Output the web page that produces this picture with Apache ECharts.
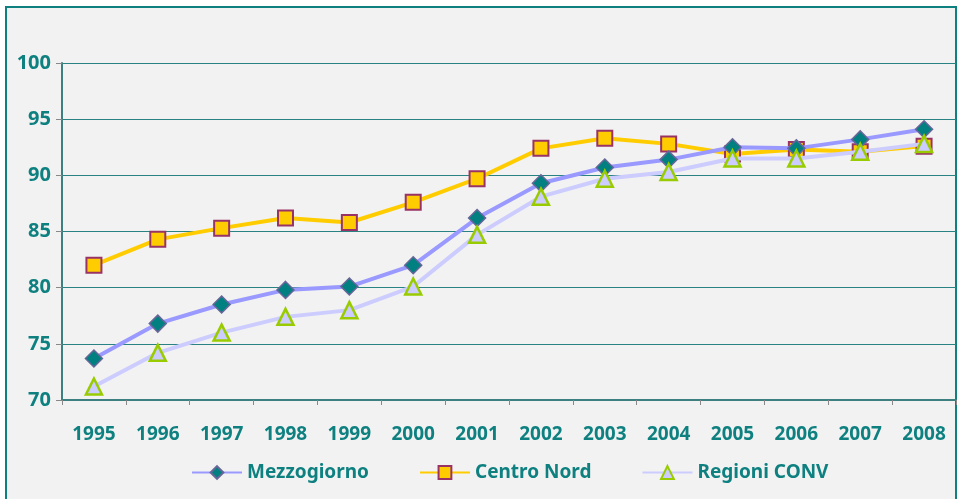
<!DOCTYPE html>
<html>
<head>
<meta charset="utf-8">
<script src="https://cdn.jsdelivr.net/npm/echarts@6/dist/echarts.min.js"></script>
<style>
  html, body { margin: 0; padding: 0; background: #fff; }
  #chart { width: 969px; height: 499px; }
</style>
</head>
<body>
<div id="chart"></div>
<script>
// dati
var anni = ['1995', '1996', '1997', '1998', '1999', '2000', '2001', '2002', '2003', '2004', '2005', '2006', '2007', '2008'];
var mezzogiorno = [73.7, 76.8, 78.5, 79.8, 80.1, 82.0, 86.2, 89.3, 90.7, 91.4, 92.5, 92.4, 93.2, 94.1];
var centroNord = [82.0, 84.3, 85.3, 86.2, 85.8, 87.6, 89.7, 92.4, 93.3, 92.8, 91.9, 92.3, 92.1, 92.6];
var regioniConv = [71.2, 74.2, 76.0, 77.4, 78.0, 80.1, 84.7, 88.1, 89.7, 90.3, 91.5, 91.5, 92.1, 92.8];

var teal = '#0E8080';
var font = '"Noto Sans", "Open Sans", sans-serif';

var myChart = echarts.init(document.getElementById('chart'));

var option = {
    backgroundColor: '#ffffff',
    textStyle: { fontFamily: font },
    graphic: [{
        type: 'rect',
        z: -10,
        silent: true,
        shape: { x: 6, y: 7, width: 950, height: 520 },
        style: { fill: '#F2F2F2', stroke: teal, lineWidth: 2 }
    }],
    grid: { left: 62, right: 13, top: 63, bottom: 99 },
    legend: {
        top: 458,
        left: 186,
        itemWidth: 50,
        itemHeight: 16,
        itemGap: 50,
        textStyle: { color: teal, fontWeight: 'bold', fontSize: 19, fontFamily: font },
        data: ['Mezzogiorno', 'Centro Nord', 'Regioni CONV']
    },
    xAxis: {
        type: 'category',
        data: anni,
        boundaryGap: true,
        axisLine: { lineStyle: { color: '#3E7F7F', width: 2 } },
        axisTick: { show: true, length: 5, lineStyle: { color: '#888888' } },
        axisLabel: { color: teal, fontWeight: 'bold', fontSize: 19, margin: 25, fontFamily: font }
    },
    yAxis: {
        type: 'value',
        min: 70,
        max: 100,
        interval: 5,
        axisLine: { show: true, lineStyle: { color: '#3E7F7F', width: 2 } },
        axisTick: { show: true, length: 6, lineStyle: { color: '#888888' } },
        axisLabel: { color: teal, fontWeight: 'bold', fontSize: 20, margin: 11, fontFamily: font },
        splitLine: { lineStyle: { color: '#2A8383', width: 1.2 } }
    },
    series: [
        {
            name: 'Mezzogiorno',
            type: 'line',
            data: mezzogiorno,
            symbol: 'diamond',
            symbolSize: 17,
            z: 4,
            lineStyle: { color: '#9999FF', width: 4 },
            itemStyle: { color: '#008080', borderColor: '#666699', borderWidth: 1.5 }
        },
        {
            name: 'Centro Nord',
            type: 'line',
            data: centroNord,
            symbol: 'rect',
            symbolSize: 15,
            z: 3,
            lineStyle: { color: '#FFCC00', width: 4 },
            itemStyle: { color: '#FFCC00', borderColor: '#993366', borderWidth: 2 }
        },
        {
            name: 'Regioni CONV',
            type: 'line',
            data: regioniConv,
            symbol: 'triangle',
            symbolSize: 16,
            z: 5,
            lineStyle: { color: '#CCCCFF', width: 4 },
            itemStyle: { color: '#CCCCFF', borderColor: '#99CC00', borderWidth: 2.5 }
        }
    ]
};

myChart.setOption(option);
</script>
</body>
</html>
